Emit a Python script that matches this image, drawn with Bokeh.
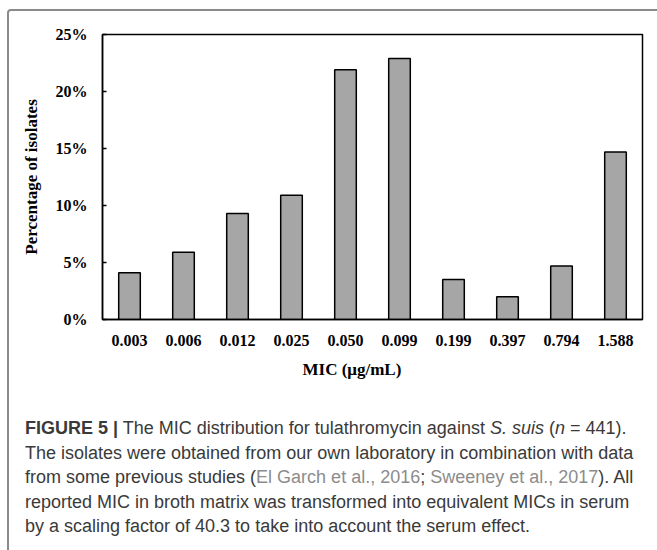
from bokeh.plotting import figure
from bokeh.models import (ColumnDataSource, Range1d, FixedTicker, PrintfTickFormatter,
                          Title, Div)
from bokeh.layouts import column
from bokeh.embed import file_html
from bokeh.resources import INLINE

# ---- data ----
mic_labels = ["0.003", "0.006", "0.012", "0.025", "0.050",
              "0.099", "0.199", "0.397", "0.794", "1.588"]
pct_isolates = [4.1, 5.9, 9.3, 10.9, 21.9, 22.9, 3.5, 2.0, 4.7, 14.7]
y_ticks = [0, 5, 10, 15, 20, 25]

SERIF = "Liberation Serif"

source = ColumnDataSource(data=dict(mic=mic_labels, pct=pct_isolates))

p = figure(x_range=mic_labels, y_range=Range1d(0, 25),
           width=646, height=382, output_backend="svg", toolbar_location=None,
           min_border_left=93, min_border_right=13, min_border_top=23,
           min_border_bottom=74)

p.vbar(x="mic", top="pct", width=0.4, source=source,
       fill_color="#a6a6a6", line_color="black", line_width=1.5)

p.outline_line_color = "black"
p.outline_line_width = 1.5
p.outline_line_alpha = 1.0
p.xgrid.visible = False
p.ygrid.visible = False

ya = p.yaxis[0]
ya.ticker = FixedTicker(ticks=y_ticks)
ya.formatter = PrintfTickFormatter(format="%d%%")
ya.major_tick_in = 4
ya.major_tick_out = 0
ya.major_tick_line_width = 1.5
ya.minor_tick_line_color = None
ya.axis_line_width = 1.5
ya.major_label_standoff = 15
ya.major_label_text_font = SERIF
ya.major_label_text_font_style = "bold"
ya.major_label_text_font_size = "16px"
ya.major_label_text_color = "black"
ya.axis_label = "Percentage of isolates"
ya.axis_label_text_font = SERIF
ya.axis_label_text_font_style = "bold"
ya.axis_label_text_font_size = "17px"
ya.axis_label_text_color = "black"
ya.axis_label_standoff = 12

xa = p.xaxis[0]
xa.major_tick_line_color = None
xa.minor_tick_line_color = None
xa.axis_line_width = 1.5
xa.major_label_standoff = 9
xa.major_label_text_font = SERIF
xa.major_label_text_font_style = "bold"
xa.major_label_text_font_size = "16px"
xa.major_label_text_color = "black"

p.add_layout(Title(text="MIC (\u03bcg/mL)", align="left", offset=200,
                   standoff=18, text_font=SERIF, text_font_style="bold",
                   text_font_size="17px", text_color="black"), "below")

gray = "color:#8c8c8c"
caption_html = (
    '<div style="padding:18px 0 0 11px; font-family:\'Liberation Sans\',sans-serif; '
    'font-size:18px; line-height:24.5px; color:#3a3a3a; white-space:nowrap;">'
    '<b>FIGURE 5 |</b> The MIC distribution for tulathromycin against '
    '<i>S. suis</i> (<i>n</i> = 441).<br>'
    'The isolates were obtained from our own laboratory in combination with data<br>'
    'from some previous studies (<span style="' + gray + '">El Garch et al., 2016</span>; '
    '<span style="' + gray + '">Sweeney et al., 2017</span>). All<br>'
    'reported MIC in broth matrix was transformed into equivalent MICs in serum<br>'
    'by a scaling factor of 40.3 to take into account the serum effect.'
    '</div>'
)
caption = Div(text=caption_html, width=646, height=157)

layout = column(p, caption, margin=(9, 0, 0, 7),
                styles={"border": "2px solid #8a8a8a", "border-bottom": "none",
                        "border-radius": "4px"})

open("out.html", "w").write(file_html(layout, INLINE))
